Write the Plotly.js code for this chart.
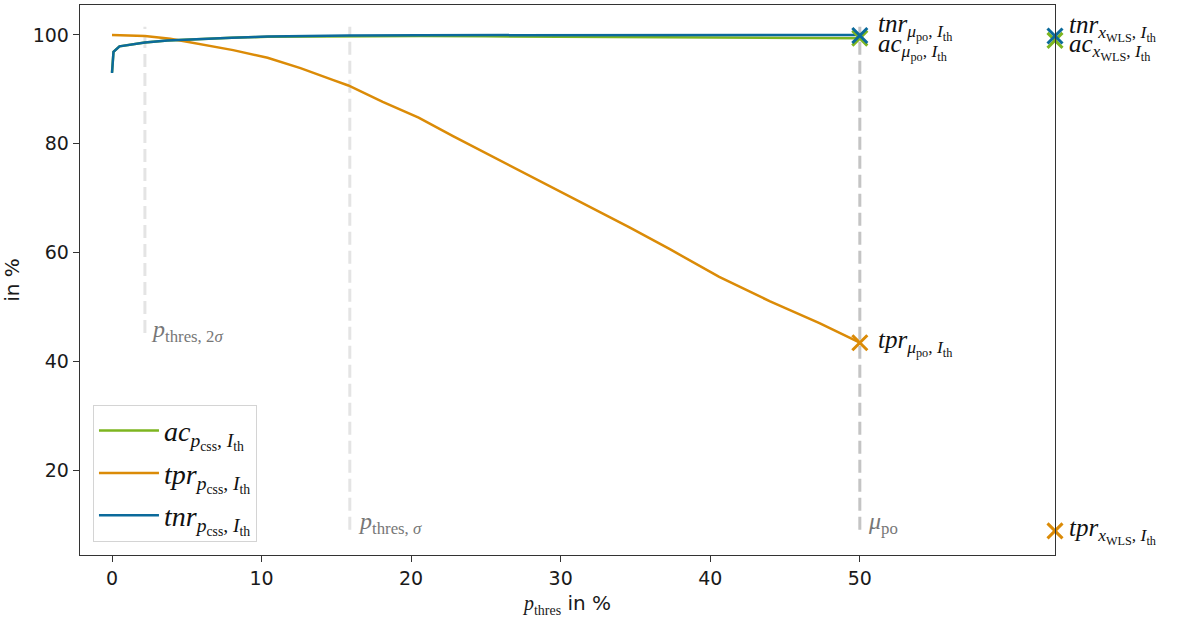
<!DOCTYPE html>
<html>
<head>
<meta charset="utf-8">
<script src="https://cdn.plot.ly/plotly-3.0.1.min.js"></script>
<style>html,body{margin:0;padding:0;background:#fff;}#chart{width:1193px;height:624px;}</style>
</head>
<body>
<div id="chart"></div>
<script>
// ---- data ----
const pTpr = [0, 2.2, 3.9, 5.9, 8.1, 10.4, 12.6, 14.8, 15.8, 18.1, 19.25, 20.5, 22.8, 25.9, 29.3, 32.6, 34.6, 37.3, 40.6, 44.0, 47.3, 50];
const tpr  = [100.0, 99.8, 99.3, 98.3, 97.2, 95.8, 93.9, 91.7, 90.7, 87.7, 86.3, 84.8, 81.4, 77.0, 72.1, 67.5, 64.6, 60.6, 55.5, 51.0, 47.0, 43.4];

const pTn  = [0, 0.1, 0.5, 1.4, 2.2, 3.7, 5.9, 8.0, 10.4, 13.0, 15.8, 20.6, 25, 30, 35, 40, 45, 50];
const tnr  = [93.0, 96.9, 97.9, 98.3, 98.6, 98.95, 99.3, 99.5, 99.7, 99.8, 99.9, 99.95, 99.97, 99.98, 99.99, 100.0, 100.0, 100.0];
const ac   = [93.1, 96.9, 97.9, 98.3, 98.6, 98.95, 99.3, 99.5, 99.65, 99.72, 99.78, 99.8, 99.75, 99.7, 99.62, 99.55, 99.48, 99.4];

const muPo = 50;
const xWLS = 63.05;
const markAc  = [99.4, 99.0];
const markTpr = [43.4, 8.8];
const markTnr = [99.9, 99.8];

const vlineX      = [2.2, 15.9, 50];
const vlineBottom = [45.2, 9.0, 9.0];
const vlineTop    = 101.5;

const cGreen = '#7db51f', cOrange = '#db8b07', cBlue = '#0b6a9b';
const serif = 'Liberation Serif, DejaVu Serif, serif';
const sans = 'DejaVu Sans, sans-serif';

function sub(main, s){ return main + '<sub>' + s + '</sub>'; }
const subPcss = '<i>p</i><sub>css</sub>, <i>I</i><sub>th</sub>';
const subMu = '<i>μ</i><sub>po</sub>, <i>I</i><sub>th</sub>';
const subW = '<i>x</i><sub>WLS</sub>, <i>I</i><sub>th</sub>';

const traces = [];
const vColors = ['#e4e4e4', '#e4e4e4', '#c4c4c4'];
vlineX.forEach((vx, i) => {
  traces.push({x:[vx, vx], y:[vlineBottom[i], vlineTop], mode:'lines', showlegend:false, hoverinfo:'skip',
    line:{color:vColors[i], width:3, dash:'13px,6px'}});
});
traces.push({x:pTn, y:ac, mode:'lines', legendgroup:'a', name: sub('<i>ac</i>', subPcss), line:{color:cGreen, width:2.5}});
traces.push({x:pTpr, y:tpr, mode:'lines', legendgroup:'b', name: sub('<i>tpr</i>', subPcss), line:{color:cOrange, width:2.5}});
traces.push({x:pTn, y:tnr, mode:'lines', legendgroup:'c', name: sub('<i>tnr</i>', subPcss), line:{color:cBlue, width:2.5}});
const mk = (ys, col) => ({x:[muPo, xWLS], y:ys, mode:'markers', showlegend:false, cliponaxis:false, hoverinfo:'skip',
  marker:{symbol:'x-thin', size:15, line:{color:col, width:3}, color:col}});
traces.push(mk(markAc, cGreen));
traces.push(mk(markTpr, cOrange));
traces.push(mk(markTnr, cBlue));

const ann = (x, y, text, xs, ys, col, size) => ({x:x, y:y, xref:'x', yref:'y', text:text, showarrow:false,
  xanchor:'left', yanchor:'middle', xshift:xs, yshift:ys, font:{family:serif, size:size||25, color:col||'#111'}});

const annotations = [
  ann(muPo, markTnr[0], sub('<i>tnr</i>', subMu), 16, 8),
  ann(muPo, markAc[0], sub('<i>ac</i>', subMu), 16, -9),
  ann(muPo, markTpr[0], sub('<i>tpr</i>', subMu), 16, 0),
  ann(xWLS, markTnr[1], sub('<i>tnr</i>', subW), 12, 8),
  ann(xWLS, markAc[1], sub('<i>ac</i>', subW), 12, -7),
  ann(xWLS, markTpr[1], sub('<i>tpr</i>', subW), 12, 0),
  ann(vlineX[0], vlineBottom[0], sub('<i>p</i>', 'thres, 2<i>σ</i>'), 4, 2, '#777', 24),
  ann(vlineX[1], vlineBottom[1], sub('<i>p</i>', 'thres, <i>σ</i>'), 6, 7, '#777', 24),
  ann(vlineX[2], vlineBottom[2], sub('<i>μ</i>', 'po'), 6, 7, '#777', 24)
];

const layout = {
  width:1193, height:624,
  margin:{l:80, r:138, t:5, b:69},
  paper_bgcolor:'#fff', plot_bgcolor:'#fff',
  showlegend:true,
  legend:{x:0.0133, y:0.273, xanchor:'left', yanchor:'top', bgcolor:'#fff', bordercolor:'#d4d4d4', borderwidth:1,
    itemwidth:60, tracegroupgap:3, entrywidth:170, entrywidthmode:'pixels', font:{family:serif, size:28, color:'#111'}},
  xaxis:{range:[-2.14, 63.05], tickvals:[0,10,20,30,40,50], ticktext:['0','10','20','30','40','50'],
    showgrid:false, zeroline:false, showline:true, mirror:true, linecolor:'#333', linewidth:1.3,
    ticks:'outside', ticklen:6, tickcolor:'#333', tickfont:{family:sans, size:19, color:'#1a1a1a'},
    title:{text:'<span style="font-family:Liberation Serif, serif"><i>p</i><sub>thres</sub></span> in %', font:{family:sans, size:20, color:'#1a1a1a'}, standoff:8}},
  yaxis:{range:[4.37, 105.5], tickvals:[20,40,60,80,100],
    showgrid:false, zeroline:false, showline:true, mirror:true, linecolor:'#333', linewidth:1.3,
    ticks:'outside', ticklen:6, tickcolor:'#333', tickfont:{family:sans, size:19, color:'#1a1a1a'},
    title:{text:'in %', font:{family:sans, size:20, color:'#1a1a1a'}, standoff:10}},
  annotations:annotations
};

Plotly.newPlot('chart', traces, layout, {displayModeBar:false, staticPlot:true});
</script>
</body>
</html>
